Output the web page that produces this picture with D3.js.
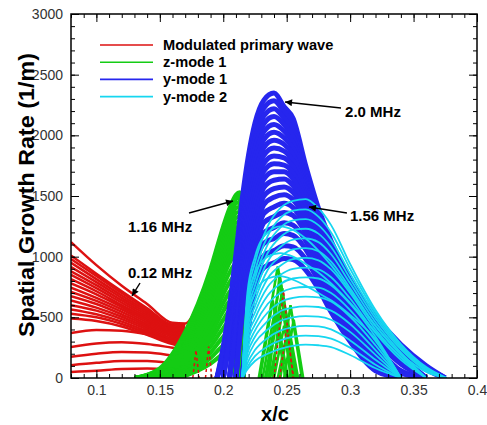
<!DOCTYPE html>
<html><head><meta charset="utf-8">
<script src="https://cdn.jsdelivr.net/npm/d3@7"></script>
<style>body{margin:0;background:#fff} svg{display:block}</style>
</head><body>
<svg id="c" width="487" height="425"></svg>
<script>
const xDomain = [0.08, 0.4];
const yDomain = [0, 3000];
const xTicks = [0.1, 0.15, 0.2, 0.25, 0.3, 0.35, 0.4];
const xTickLabels = ["0.1", "0.15", "0.2", "0.25", "0.3", "0.35", "0.4"];
const yTicks = [0, 500, 1000, 1500, 2000, 2500, 3000];
const yTickLabels = ["0", "500", "1000", "1500", "2000", "2500", "3000"];
const legendLabels = ["Modulated primary wave", "z-mode 1", "y-mode 1", "y-mode 2"];
const seriesColors = ["#dd1111", "#14cc14", "#2626ee", "#16d6f0"];

// Modulated primary wave (red)
const redX = [0.08, 0.10, 0.12, 0.14, 0.16, 0.17, 0.18];
const redY = [
  [1120, 930, 760, 610, 455, 450, 600],
  [1010, 860, 715, 575, 440, 440, null],
  [980, 840, 700, 565, 430, 428, null],
  [950, 815, 680, 550, 420, 415, null],
  [915, 790, 660, 535, 410, 402, null],
  [880, 765, 640, 520, 400, 390, null],
  [850, 740, 620, 505, 390, 378, null],
  [815, 715, 600, 490, 380, 366, null],
  [780, 690, 585, 475, 370, 354, null],
  [745, 660, 565, 460, 360, 342, null],
  [710, 635, 545, 445, 350, 330, null],
  [675, 610, 525, 430, 340, 318, null],
  [640, 580, 505, 415, 325, 305, null],
  [600, 555, 485, 400, 315, 292, null],
  [565, 525, 465, 385, 300, 280, null],
  [530, 500, 445, 370, 290, 268, null],
  [490, 470, 425, 355, 280, 255, null],
  [370, 395, 390, 360, 305, 290, null],
  [255, 285, 295, 280, 250, 235, null],
  [175, 200, 215, 210, 185, 170, null],
  [105, 125, 140, 140, 120, 105, null],
  [50, 60, 75, 78, 65, 55, null]
];

// z-mode 1 (green)
const greenX = [0.13, 0.15, 0.17, 0.18, 0.19, 0.20, 0.205, 0.21, 0.213, 0.216];
const greenY = [
  [0, 80, 380, 610, 900, 1250, 1400, 1510, 1530, 0],
  [0, 72, 362, 588, 872, 1215, 1365, 1475, 1490, 0],
  [0, 65, 345, 565, 845, 1180, 1330, 1440, 1450, 0],
  [0, 60, 330, 542, 818, 1145, 1295, 1400, 1410, 0],
  [0, 55, 315, 520, 790, 1110, 1260, 1360, 1370, 0],
  [0, 50, 300, 500, 762, 1075, 1225, 1320, 1330, 0],
  [0, 45, 285, 480, 735, 1040, 1190, 1280, 1290, 0],
  [0, 41, 270, 460, 708, 1005, 1150, 1240, 1250, 0],
  [0, 38, 255, 440, 680, 970, 1110, 1200, 1210, 0],
  [0, 34, 240, 420, 652, 935, 1070, 1155, 1165, 0],
  [0, 30, 225, 400, 625, 900, 1030, 1110, 1120, 0],
  [0, 27, 212, 380, 598, 865, 990, 1065, 0, null],
  [0, 24, 200, 360, 570, 830, 950, 1020, 0, null],
  [0, 18, 175, 320, 515, 760, 870, 940, 0, null],
  [0, 14, 150, 285, 460, 690, 790, 850, 0, null],
  [0, 10, 128, 250, 410, 620, 710, 760, 0, null],
  [0, 7, 105, 215, 360, 550, 630, 0, null, null],
  [0, 5, 85, 180, 310, 480, 550, 0, null, null],
  [0, 3, 65, 145, 260, 410, 470, 0, null, null],
  [null, 2, 48, 115, 210, 340, 390, 0, null, null],
  [null, 1, 32, 85, 165, 270, 310, 0, null, null],
  [null, 0, 20, 60, 120, 200, 230, 0, null, null]
];
const greenSpikes = [
  [[0.228, 0], [0.243, 920], [0.258, 0]],
  [[0.231, 0], [0.245, 800], [0.259, 0]],
  [[0.234, 0], [0.246, 680], [0.258, 0]],
  [[0.237, 0], [0.247, 560], [0.257, 0]],
  [[0.240, 0], [0.248, 430], [0.256, 0]],
  [[0.243, 0], [0.249, 300], [0.255, 0]],
  [[0.233, 0], [0.242, 520], [0.251, 0]],
  [[0.245, 0], [0.253, 600], [0.262, 0]],
  [[0.236, 0], [0.2445, 860], [0.253, 0]],
  [[0.239, 0], [0.2465, 740], [0.2545, 0]],
  [[0.229, 0], [0.239, 640], [0.249, 0]],
  [[0.248, 0], [0.2555, 480], [0.263, 0]]
];
const redSpikes = [
  [[0.176, 0], [0.1785, 230], [0.181, 0]],
  [[0.186, 0], [0.1885, 260], [0.191, 0]],
  [[0.240, 0], [0.2475, 720], [0.255, 0]],
  [[0.2445, 0], [0.250, 420], [0.2555, 0]]
];

// y-mode 1 (blue)
const blueX = [0.195, 0.20, 0.205, 0.21, 0.215, 0.225, 0.232, 0.24, 0.248, 0.255, 0.265, 0.275, 0.285, 0.30, 0.32, 0.34, 0.36, 0.375];
const blueY = [
  [0, 260, 600, 1020, 1480, 2100, 2290, 2348, 2235, 2140, 1750, 1400, 1130, 808, 510, 275, 100, 0],
  [0, 230, 560, 970, 1420, 2030, 2225, 2285, 2190, 2090, 1720, 1370, 1100, 785, 490, 260, 90, 0],
  [0, 200, 520, 920, 1360, 1960, 2160, 2220, 2140, 2040, 1690, 1340, 1075, 760, 470, 245, 80, 0],
  [0, 170, 480, 870, 1300, 1890, 2095, 2155, 2090, 1990, 1660, 1310, 1050, 740, 450, 230, 70, 0],
  [null, 0, 420, 810, 1240, 1820, 2030, 2090, 2035, 1940, 1630, 1285, 1020, 710, 420, 190, 0, null],
  [null, 0, 380, 760, 1180, 1750, 1965, 2025, 1980, 1890, 1600, 1260, 995, 690, 400, 175, 0, null],
  [null, 0, 340, 710, 1120, 1680, 1900, 1960, 1925, 1840, 1570, 1235, 970, 665, 380, 160, 0, null],
  [null, 0, 300, 660, 1060, 1610, 1835, 1895, 1870, 1790, 1540, 1210, 945, 645, 360, 145, 0, null],
  [null, null, 0, 560, 1000, 1540, 1770, 1830, 1815, 1740, 1505, 1185, 920, 620, 340, 130, 0, null],
  [null, null, 0, 500, 945, 1470, 1705, 1765, 1755, 1690, 1470, 1160, 895, 600, 320, 115, 0, null],
  [null, null, 0, 440, 890, 1400, 1640, 1700, 1700, 1640, 1435, 1135, 870, 560, 270, 60, 0, null],
  [null, null, 0, 380, 840, 1330, 1570, 1630, 1640, 1585, 1395, 1105, 840, 540, 250, 50, 0, null],
  [null, null, null, 0, 700, 1260, 1500, 1560, 1575, 1530, 1350, 1075, 810, 515, 230, 40, 0, null],
  [null, null, null, 0, 640, 1190, 1430, 1490, 1510, 1470, 1300, 1040, 780, 490, 210, 0, null, null],
  [null, null, null, 0, 580, 1120, 1355, 1410, 1440, 1405, 1250, 1000, 750, 465, 190, 0, null, null],
  [null, null, null, 0, 520, 1050, 1280, 1330, 1365, 1340, 1195, 960, 715, 440, 170, 0, null, null],
  [null, null, null, null, 0, 975, 1195, 1240, 1280, 1260, 1130, 910, 680, 410, 150, 0, null, null],
  [null, null, null, null, 0, 900, 1110, 1150, 1190, 1175, 1060, 860, 640, 380, 120, 0, null, null],
  [null, null, null, null, 0, 820, 1010, 1050, 1090, 1080, 980, 800, 595, 340, 90, 0, null, null],
  [null, null, null, null, 0, 740, 910, 950, 985, 975, 890, 735, 545, 300, 60, 0, null, null]
];

// y-mode 2 (cyan)
const cyanX = [0.215, 0.219, 0.225, 0.235, 0.245, 0.255, 0.265, 0.275, 0.285, 0.30, 0.32, 0.34, 0.36, 0.376];
const cyanY = [
  [0, 650, 950, 1250, 1400, 1460, 1475, 1400, 1260, 940, 560, 280, 90, 0],
  [0, 600, 880, 1170, 1320, 1380, 1390, 1330, 1200, 900, 540, 265, 80, 0],
  [0, 700, 1000, 1200, 1250, 1220, 1150, 1050, 930, 720, 430, 200, 50, 0],
  [0, 560, 820, 1100, 1240, 1300, 1310, 1260, 1140, 860, 515, 250, 70, 0],
  [0, 520, 760, 1030, 1160, 1220, 1230, 1190, 1080, 820, 490, 235, 60, 0],
  [0, 620, 860, 1000, 1030, 1000, 940, 870, 780, 620, 380, 170, 0, null],
  [0, 480, 700, 960, 1080, 1140, 1150, 1120, 1020, 780, 460, 210, 0, null],
  [0, 440, 640, 890, 1000, 1060, 1070, 1045, 960, 740, 430, 190, 0, null],
  [0, 400, 590, 820, 925, 980, 990, 970, 895, 700, 400, 170, 0, null],
  [0, 500, 700, 820, 840, 810, 760, 700, 640, 520, 320, 0, null, null],
  [0, 360, 540, 750, 850, 900, 910, 895, 830, 655, 370, 150, 0, null],
  [0, 320, 490, 680, 775, 820, 830, 820, 765, 610, 340, 0, null, null],
  [0, 280, 440, 610, 700, 740, 750, 745, 700, 560, 305, 0, null, null],
  [0, 240, 390, 540, 625, 660, 670, 665, 630, 505, 270, 0, null, null],
  [0, 200, 340, 470, 550, 580, 590, 585, 555, 445, 230, 0, null, null],
  [0, 160, 290, 400, 470, 500, 510, 505, 480, 380, 190, 0, null, null],
  [0, 120, 230, 330, 390, 420, 430, 425, 400, 310, 150, 0, null, null],
  [0, 90, 180, 260, 310, 340, 350, 345, 325, 250, 110, 0, null, null],
  [0, 70, 140, 200, 240, 265, 275, 270, 255, 190, 80, 0, null, null]
];

const annotations = [
  {label: "2.0 MHz", tx: 0.2960, ty: 2151, from: [0.2928, 2225], to: [0.2487, 2275]},
  {label: "1.56 MHz", tx: 0.2999, ty: 1294, from: [0.2975, 1360], to: [0.2676, 1409]},
  {label: "1.16 MHz", tx: 0.1249, ty: 1203, from: [0.1730, 1360], to: [0.2077, 1459]},
  {label: "0.12 MHz", tx: 0.1249, ty: 824, from: [0.1344, 783], to: [0.1281, 676]}
];

const svg = d3.select("#c");
const L = 71, R = 477, T = 14, B = 378;
const x = d3.scaleLinear().domain(xDomain).range([L, R]);
const y = d3.scaleLinear().domain(yDomain).range([B, T]);
const FONT = "'Liberation Sans', Arial, Helvetica, sans-serif";

svg.append("defs").append("clipPath").attr("id", "clip")
  .append("rect").attr("x", L).attr("y", T).attr("width", R - L).attr("height", B - T);
svg.select("defs").append("marker").attr("id", "ah")
  .attr("viewBox", "0 0 10 10").attr("refX", 10).attr("refY", 5)
  .attr("markerWidth", 9).attr("markerHeight", 7).attr("markerUnits", "userSpaceOnUse")
  .attr("orient", "auto")
  .append("path").attr("d", "M0,0 L10,5 L0,10 Z").attr("fill", "#000");

const plot = svg.append("g").attr("clip-path", "url(#clip)");

function drawFamily(xs, rows, color, width) {
  const gen = d3.line().defined(d => d[1] != null).x(d => x(d[0])).y(d => y(d[1])).curve(d3.curveMonotoneX);
  plot.append("g").selectAll("path").data(rows).join("path")
    .attr("d", r => gen(r.map((v, i) => [xs[i], v])))
    .attr("fill", "none").attr("stroke", color).attr("stroke-width", width)
    .attr("stroke-linejoin", "round");
}
const pairLine = d3.line().x(d => x(d[0])).y(d => y(d[1]));

drawFamily(redX, redY, seriesColors[0], 2.5);
drawFamily(greenX, greenY, seriesColors[1], 4.2);
drawFamily(blueX, blueY, seriesColors[2], 5);
plot.append("g").selectAll("path").data(greenSpikes).join("path")
  .attr("d", pairLine).attr("fill", "none").attr("stroke", seriesColors[1]).attr("stroke-width", 2.6);
plot.append("g").selectAll("path").data(redSpikes).join("path")
  .attr("d", pairLine).attr("fill", "none").attr("stroke", seriesColors[0]).attr("stroke-width", 1.5)
  .attr("stroke-dasharray", "3,3");
drawFamily(cyanX, cyanY, seriesColors[3], 1.8);

// axes
function styleAxis(g) {
  g.select(".domain").remove();
  g.selectAll("line").attr("stroke", "#000").attr("stroke-width", 1);
  g.selectAll("text").attr("font-family", FONT).attr("font-size", 14).attr("fill", "#333");
}
const xMinor = d3.range(0.08, 0.4001, 0.01).map(v => +v.toFixed(3));
const yMinor = d3.range(0, 3001, 100);

svg.append("g").attr("transform", `translate(0,${B})`)
  .call(d3.axisBottom(x).tickValues(xMinor).tickSize(-4).tickFormat("")).call(styleAxis);
svg.append("g").attr("transform", `translate(0,${B})`)
  .call(d3.axisBottom(x).tickValues(xTicks).tickSize(-8).tickPadding(7)
    .tickFormat((d, i) => xTickLabels[i])).call(styleAxis);
svg.append("g").attr("transform", `translate(0,${T})`)
  .call(d3.axisTop(x).tickValues(xMinor).tickSize(-4).tickFormat("")).call(styleAxis);
svg.append("g").attr("transform", `translate(0,${T})`)
  .call(d3.axisTop(x).tickValues(xTicks).tickSize(-8).tickFormat("")).call(styleAxis);

svg.append("g").attr("transform", `translate(${L},0)`)
  .call(d3.axisLeft(y).tickValues(yMinor).tickSize(-4).tickFormat("")).call(styleAxis);
svg.append("g").attr("transform", `translate(${L},0)`)
  .call(d3.axisLeft(y).tickValues(yTicks).tickSize(-8).tickPadding(8)
    .tickFormat((d, i) => yTickLabels[i])).call(styleAxis);
svg.append("g").attr("transform", `translate(${R},0)`)
  .call(d3.axisRight(y).tickValues(yMinor).tickSize(-4).tickFormat("")).call(styleAxis);
svg.append("g").attr("transform", `translate(${R},0)`)
  .call(d3.axisRight(y).tickValues(yTicks).tickSize(-8).tickFormat("")).call(styleAxis);

svg.append("rect").attr("x", L).attr("y", T).attr("width", R - L).attr("height", B - T)
  .attr("fill", "none").attr("stroke", "#000").attr("stroke-width", 1.5);

// axis titles
svg.append("text").attr("transform", `translate(34,${(53 + 337) / 2}) rotate(-90)`)
  .attr("text-anchor", "middle").attr("font-family", FONT).attr("font-weight", "bold")
  .attr("font-size", 22).attr("textLength", 284).attr("lengthAdjust", "spacingAndGlyphs")
  .text("Spatial Growth Rate (1/m)");
svg.append("text").attr("x", (L + R) / 2 + 1).attr("y", 421)
  .attr("text-anchor", "middle").attr("font-family", FONT).attr("font-weight", "bold")
  .attr("font-size", 20).text("x/c");

// legend
const lg = svg.append("g");
legendLabels.forEach((lab, i) => {
  const yy = 45 + i * 17.2;
  lg.append("line").attr("x1", 100).attr("x2", 153).attr("y1", yy).attr("y2", yy)
    .attr("stroke", seriesColors[i]).attr("stroke-width", 1.6);
  lg.append("text").attr("x", 163).attr("y", yy + 5).attr("font-family", FONT)
    .attr("font-weight", "bold").attr("font-size", 14.6).attr("fill", "#000").text(lab);
});

// annotations
const ag = svg.append("g");
annotations.forEach(a => {
  ag.append("line").attr("x1", x(a.from[0])).attr("y1", y(a.from[1]))
    .attr("x2", x(a.to[0])).attr("y2", y(a.to[1]))
    .attr("stroke", "#000").attr("stroke-width", 1.4).attr("marker-end", "url(#ah)");
  ag.append("text").attr("x", x(a.tx)).attr("y", y(a.ty)).attr("font-family", FONT)
    .attr("font-weight", "bold").attr("font-size", 15).attr("fill", "#000").text(a.label);
});
</script>
</body></html>
